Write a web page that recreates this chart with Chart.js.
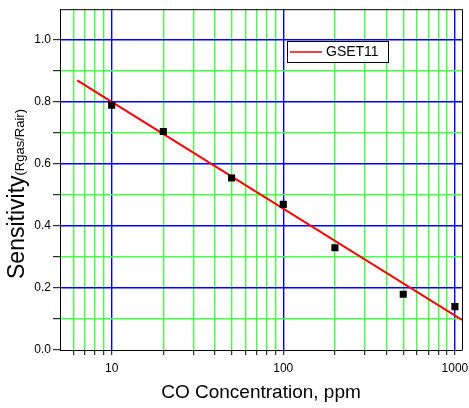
<!DOCTYPE html>
<html>
<head>
<meta charset="utf-8">
<script src="https://cdn.jsdelivr.net/npm/chart.js@4/dist/chart.umd.min.js"></script>
<style>
  html, body { margin: 0; padding: 0; background: #fff; }
</style>
</head>
<body>
<canvas id="c" width="469" height="408"></canvas>
<script>
// measured sensor response
const concentrations = [10, 20, 50, 100, 200, 500, 1000];
const sensitivity = [0.79, 0.705, 0.555, 0.47, 0.33, 0.18, 0.14];

// fitted line end points
const fitX = [6.3, 1100];
const fitY = [0.87, 0.097];

const seriesName = 'GSET11';

// axis ticks
const xTicks = [6, 7, 8, 9, 10, 20, 30, 40, 50, 60, 70, 80, 90,
  100, 200, 300, 400, 500, 600, 700, 800, 900, 1000];
const xLabels = [10, 100, 1000];
const yTicks = [0, 0.1, 0.2, 0.3, 0.4, 0.5, 0.6, 0.7, 0.8, 0.9, 1.0];

const BLUE = '#0000ff';
const GREEN = '#44ff44';
const FONT = 'Arial, "Liberation Sans", sans-serif';

const isMajorX = v => xLabels.includes(v);
const tenths = v => Math.round(v * 10);

// frame, y title and legend drawn by hand
const decor = {
  id: 'decor',
  afterDatasetsDraw(chart) {
    const { ctx, chartArea: a } = chart;
    ctx.save();
    ctx.strokeStyle = '#000';
    ctx.lineWidth = 1;
    ctx.beginPath();
    ctx.moveTo(a.left, a.top + 0.5);
    ctx.lineTo(a.right + 0.5, a.top + 0.5);
    ctx.lineTo(a.right + 0.5, a.bottom);
    ctx.stroke();
    ctx.restore();
  },
  afterDraw(chart) {
    const { ctx } = chart;
    // y axis title, two font sizes
    ctx.save();
    ctx.fillStyle = '#000';
    ctx.textBaseline = 'alphabetic';
    ctx.translate(24, 194);
    ctx.rotate(-Math.PI / 2);
    const big = '23px ' + FONT, small = '13px ' + FONT;
    ctx.font = big;
    const w1 = ctx.measureText('Sensitivity').width;
    ctx.font = small;
    const w2 = ctx.measureText('(Rgas/Rair)').width;
    let x0 = -(w1 + w2) / 2;
    ctx.font = big;
    ctx.fillText('Sensitivity', x0, 0);
    ctx.font = small;
    ctx.fillText('(Rgas/Rair)', x0 + w1, 0);
    ctx.restore();

    // legend box
    ctx.save();
    ctx.fillStyle = '#fff';
    ctx.fillRect(287, 41, 101, 21);
    ctx.strokeStyle = '#000';
    ctx.lineWidth = 1;
    ctx.strokeRect(287.5, 41.5, 101, 21);
    ctx.strokeStyle = '#ff0000';
    ctx.lineWidth = 1.5;
    ctx.beginPath();
    ctx.moveTo(290, 52);
    ctx.lineTo(322, 52);
    ctx.stroke();
    ctx.fillStyle = '#000';
    ctx.font = '14px ' + FONT;
    ctx.textBaseline = 'middle';
    ctx.fillText(chart.data.datasets[1].label, 326, 52.5);
    ctx.restore();
  }
};

new Chart(document.getElementById('c'), {
  type: 'scatter',
  data: {
    datasets: [
      {
        label: 'data',
        data: concentrations.map((x, i) => ({ x, y: sensitivity[i] })),
        pointStyle: 'rect',
        pointRadius: 5,
        pointHoverRadius: 5,
        backgroundColor: '#000',
        borderColor: '#000',
        borderWidth: 0,
        showLine: false,
        order: 1
      },
      {
        label: seriesName,
        type: 'line',
        data: fitX.map((x, i) => ({ x, y: fitY[i] })),
        borderColor: '#ff0000',
        borderWidth: 2,
        pointRadius: 0,
        fill: false,
        order: 2
      }
    ]
  },
  options: {
    responsive: false,
    animation: false,
    devicePixelRatio: 1,
    layout: { padding: { top: 8, right: 7, left: 0, bottom: 0 } },
    plugins: {
      legend: { display: false },
      tooltip: { enabled: false }
    },
    scales: {
      x: {
        type: 'logarithmic',
        min: 5,
        max: 1100,
        afterBuildTicks: s => { s.ticks = xTicks.map(v => ({ value: v })); },
        afterFit: s => {
          s.height = 58;
          s.paddingLeft = 0;
          s.paddingRight = 0;
        },
        ticks: {
          autoSkip: false,
          maxRotation: 0,
          padding: 6,
          color: '#000',
          font: { family: FONT, size: 12 },
          callback: v => isMajorX(v) ? String(v) : ''
        },
        grid: {
          color: c => isMajorX(c.tick.value) ? BLUE : GREEN,
          lineWidth: 1.4,
          tickColor: '#000',
          tickWidth: 1,
          tickLength: 5
        },
        border: { color: '#000', width: 1 },
        title: {
          display: true,
          text: 'CO Concentration, ppm',
          color: '#000',
          font: { family: FONT, size: 19 },
          padding: { top: 0, bottom: 4 }
        }
      },
      y: {
        min: 0,
        max: 1.1,
        afterBuildTicks: s => { s.ticks = yTicks.map(v => ({ value: v })); },
        afterFit: s => { s.width = 60; },
        ticks: {
          autoSkip: false,
          padding: 2,
          color: '#000',
          font: { family: FONT, size: 12 },
          callback: v => tenths(v) % 2 === 0 ? v.toFixed(1) : ''
        },
        grid: {
          color: c => tenths(c.tick.value) === 0 ? 'rgba(0,0,0,0)'
            : (tenths(c.tick.value) % 2 === 0 ? BLUE : GREEN),
          lineWidth: 1.4,
          tickColor: '#000',
          tickWidth: 1,
          tickLength: 7
        },
        border: { color: '#000', width: 1 }
      }
    }
  },
  plugins: [decor]
});
</script>
</body>
</html>
